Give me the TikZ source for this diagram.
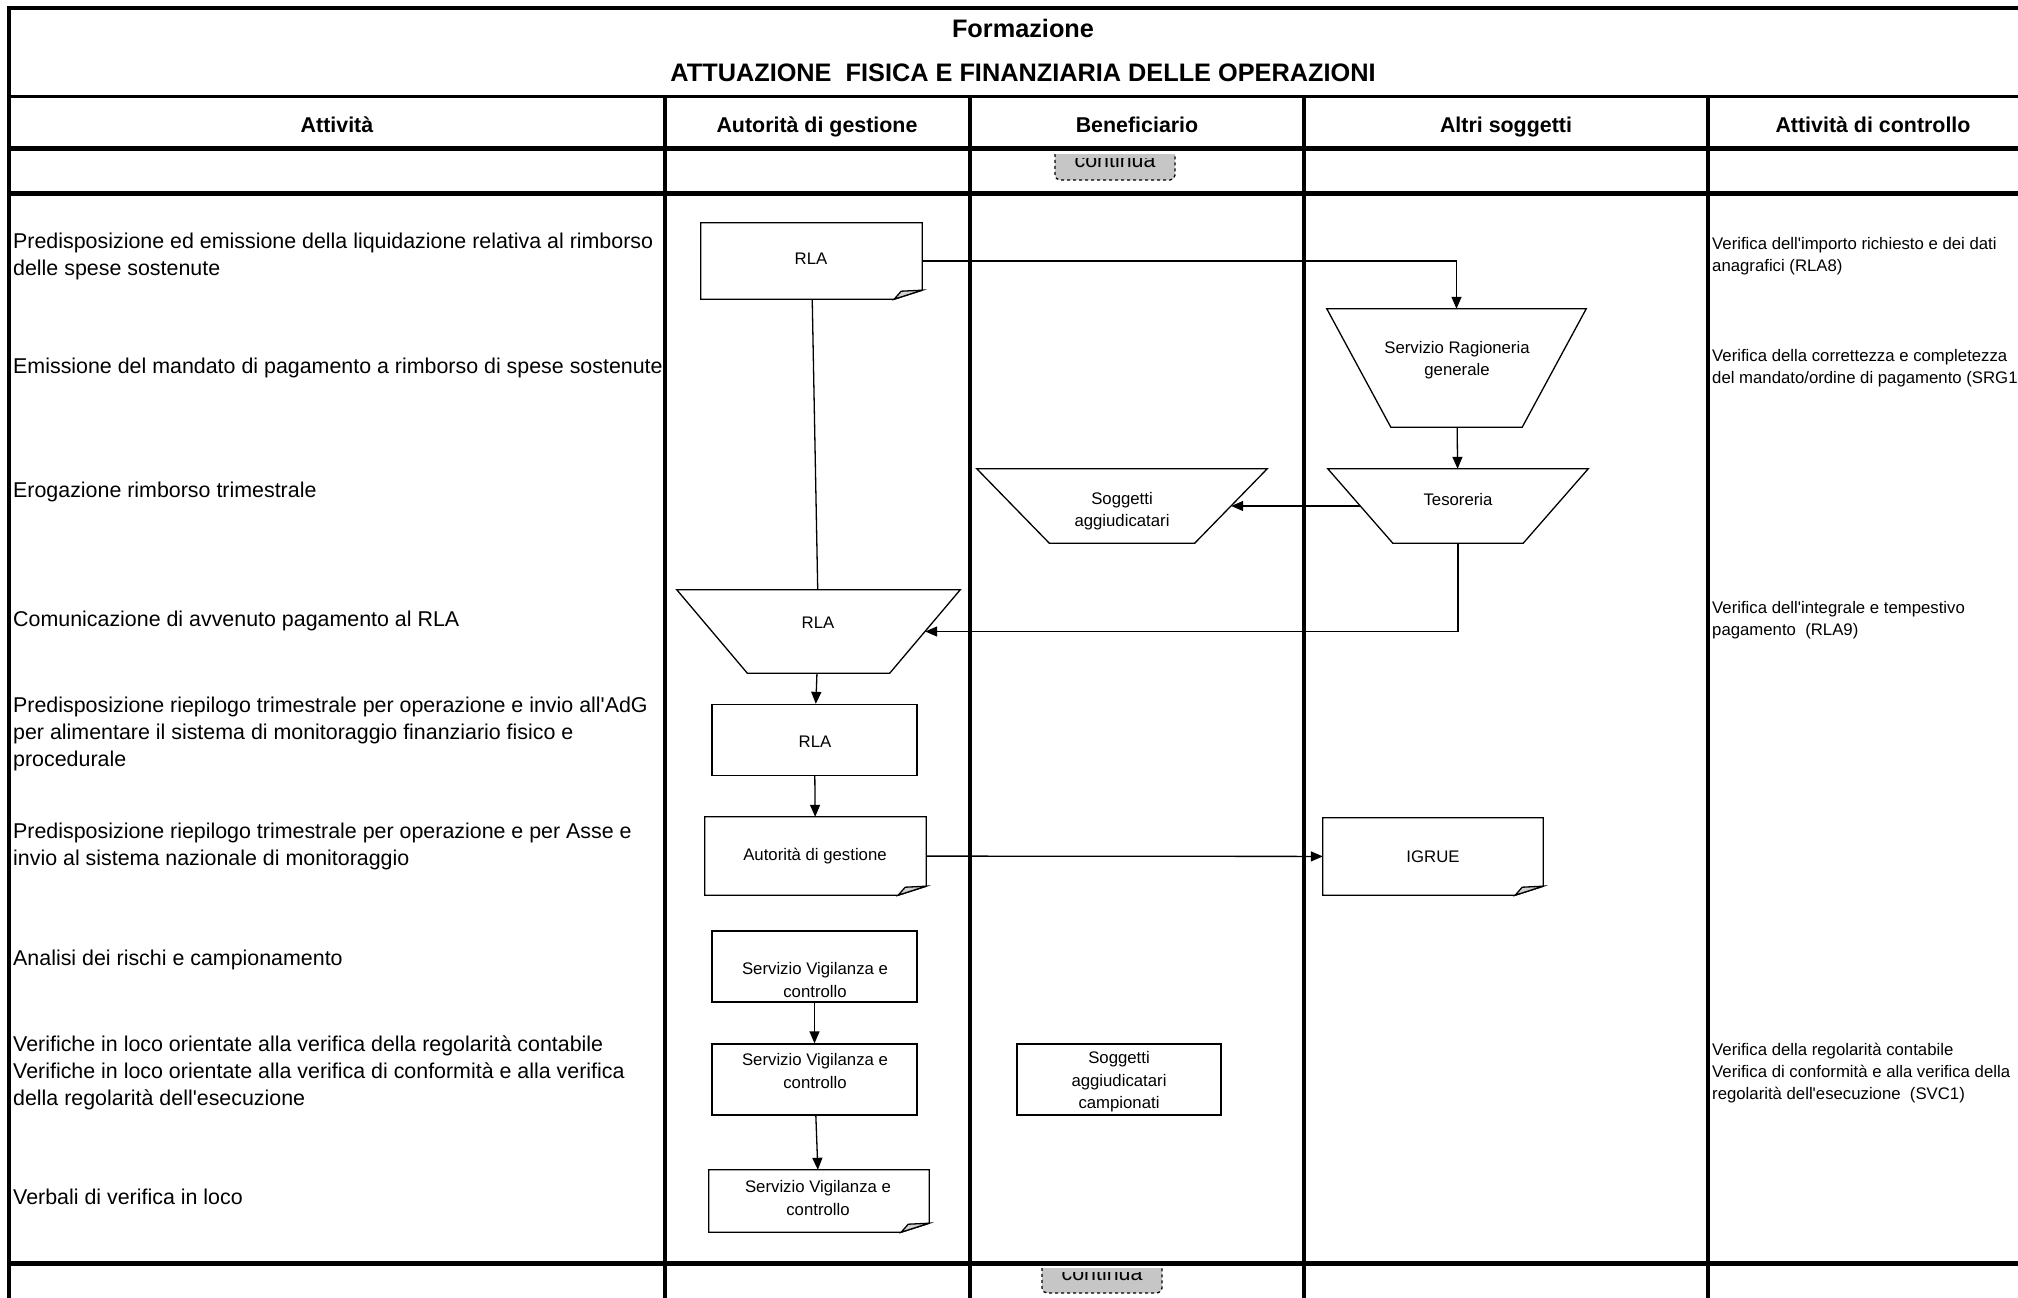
\documentclass[tikz,border=0pt]{standalone}
\usepackage{fontspec}
\newfontfamily\libsans{Liberation Sans}
\usetikzlibrary{arrows.meta}

% document box with the curled corner
\newcommand{\pagecurl}[1]{%
    \draw[outline,fill=white] (#1.north west) -- (#1.north east) -- ([yshift=9pt]#1.south east)
        -- ([xshift=-28pt]#1.south east) -- (#1.south west) -- cycle;
    \filldraw[outline,fill=gray!35] ([xshift=-28pt]#1.south east) -- ([xshift=-21pt,yshift=8pt]#1.south east)
        -- ([yshift=9pt]#1.south east) -- cycle;
}
% upside down trapezium inside a node's box
\newcommand{\trapdraw}[2]{%
    \draw[outline] (#1.north west) -- (#1.north east) -- ([xshift=-#2pt]#1.south east)
        -- ([xshift=#2pt]#1.south west) -- cycle;
}

\begin{document}
\begin{tikzpicture}[x=1pt,y=-1pt,
        outline/.style={line width=1.3pt},
        link/.style={line width=1.3pt,-{Triangle[length=12pt,width=10pt]}},
        frame/.style={line width=3.5pt},
        rowrule/.style={line width=5pt},
        docnode/.style={rectangle,inner sep=0pt},
        boxnode/.style={rectangle,draw,outline,inner sep=0pt,minimum width=205pt,minimum height=71pt},
        contbox/.style={draw,dashed,rounded corners=5pt,fill=gray!45,line width=1.3pt,minimum width=120pt,inner sep=0pt},
        titletext/.style={font=\libsans\bfseries\fontsize{25.3pt}{30pt}\selectfont},
        headtext/.style={anchor=base,font=\libsans\bfseries\fontsize{21.4pt}{26pt}\selectfont},
        acttext/.style={anchor=west,align=left,inner sep=0pt,font=\libsans\fontsize{21.4pt}{27pt}\selectfont},
        ctrltext/.style={anchor=west,align=left,inner sep=0pt,font=\libsans\fontsize{16.75pt}{22pt}\selectfont},
        boxtext/.style={align=center,inner sep=0pt,font=\libsans\fontsize{16.75pt}{22.5pt}\selectfont}]
    \useasboundingbox (0,0) rectangle (2018,1298);
    \clip (0,0) rectangle (2018,1298);

    % table
    \draw[frame] (2040,8) -- (9,8) -- (9,1300);
    \draw[frame] (9,96.5) -- (2040,96.5);
    \foreach \y in {148,193,1263}{
        \draw[rowrule] (9,\y) -- (2040,\y);
    }
    \foreach \x in {665,970,1304,1708}{
        \draw[frame] (\x,96.5) -- (\x,1300);
    }
    \node[titletext] (t1) at (1023,28) {Formazione};
    \node[titletext] (t2) at (1023,73) {ATTUAZIONE~ FISICA E FINANZIARIA DELLE OPERAZIONI};
    \foreach \id/\x/\t in {h1/337/Attività, h2/817/Autorità di gestione, h3/1137/Beneficiario, h4/1506/Altri soggetti, h5/1873/Attività di controllo}{
        \node[headtext] (\id) at (\x,132) {\t};
    }

    % activities and controls
    \def \Acts{a1/256.5/{Predisposizione ed emissione della liquidazione relativa al rimborso\\delle spese sostenute},
        a2/368/{Emissione del mandato di pagamento a rimborso di spese sostenute},
        a3/492/{Erogazione rimborso trimestrale},
        a4/620.5/{Comunicazione di avvenuto pagamento al RLA},
        a5/733.5/{Predisposizione riepilogo trimestrale per operazione e invio all'AdG\\per alimentare il sistema di monitoraggio finanziario fisico e\\procedurale},
        a6/846.5/{Predisposizione riepilogo trimestrale per operazione e per Asse e\\invio al sistema nazionale di monitoraggio},
        a7/960/{Analisi dei rischi e campionamento},
        a8/1073/{Verifiche in loco orientate alla verifica della regolarità contabile\\Verifiche in loco orientate alla verifica di conformità e alla verifica\\della regolarità dell'esecuzione},
        a9/1196.5/{Verbali di verifica in loco}}
    \def \Ctrls{c1/256.5/{Verifica dell'importo richiesto e dei dati\\anagrafici (RLA8)},
        c2/368.5/{Verifica della correttezza e completezza\\del mandato/ordine di pagamento (SRG1},
        c3/620.5/{Verifica dell'integrale e tempestivo\\pagamento~ (RLA9)},
        c4/1073.5/{Verifica della regolarità contabile\\Verifica di conformità e alla verifica della\\regolarità dell'esecuzione~ (SVC1)}}
    \foreach \id/\y/\t in \Acts{
        \node[acttext] (\id) at (13,\y) {\t};
    }
    \foreach \id/\y/\t in \Ctrls{
        \node[ctrltext] (\id) at (1712,\y) {\t};
    }

    % shapes
    \node[docnode,minimum width=221pt,minimum height=76pt] (rla1) at (811.5,261) {};
    \node[docnode,minimum width=221pt,minimum height=78pt] (adg) at (815.5,856) {};
    \node[docnode,minimum width=220pt,minimum height=77pt] (igrue) at (1433,856.5) {};
    \node[docnode,minimum width=220pt,minimum height=62pt] (svc3) at (819,1201) {};
    \foreach \id in {rla1,adg,igrue,svc3}{
        \pagecurl{\id}
    }
    \node[docnode,minimum width=259pt,minimum height=118pt] (srg) at (1456.5,368) {};
    \node[docnode,minimum width=260pt,minimum height=74pt] (tes) at (1458,506) {};
    \node[docnode,minimum width=290pt,minimum height=74pt] (sog) at (1122,506) {};
    \node[docnode,minimum width=283pt,minimum height=83pt] (rlat) at (818.5,631.5) {};
    \foreach \id/\leg in {srg/64, tes/65, sog/72.5, rlat/70.5}{
        \trapdraw{\id}{\leg}
    }
    \node[boxnode] (rlab) at (814.5,740) {};
    \node[boxnode] (svc1) at (814.5,966.5) {};
    \node[boxnode] (svc2) at (814.5,1079.5) {};
    \node[boxnode,minimum width=204pt] (sogc) at (1119,1079.5) {};

    \def \Labels{rla1/811/258.5/RLA, srg/1457/360/{Servizio Ragioneria\\generale}, tes/1458/500/Tesoreria,
        sog/1122/511/{Soggetti\\aggiudicatari}, rlat/818/623/RLA, rlab/815/742/RLA,
        adg/815/856/Autorità di gestione, igrue/1433/857/IGRUE, svc1/815/980/{Servizio Vigilanza e\\controllo},
        svc2/815/1071/{Servizio Vigilanza e\\controllo}, sogc/1119/1082/{Soggetti\\aggiudicatari\\campionati},
        svc3/818/1198/{Servizio Vigilanza e\\controllo}}
    \foreach \id/\x/\y/\t in \Labels{
        \node[boxtext] (\id-t) at (\x,\y) {\t};
    }

    % flow
    \draw[link] (rla1.east) -| (srg);
    \draw[outline] (rla1) -- (rlat);
    \draw[link] (srg) -- (tes);
    \draw[link,shorten <=-32.5pt,shorten >=-36pt] (tes) -- (sog);
    \draw[link,shorten >=-35pt] (tes) |- (rlat);
    \draw[link] (rlat) -- (rlab);
    \draw[link] (rlab) -- (adg);
    \draw[link] (adg) -- (igrue);
    \draw[link] (svc1) -- (svc2);
    \draw[link] (svc2) -- (svc3);

    % continua, its top hidden under the cell edge
    \foreach \id/\x/\ya/\yb/\yc/\yd in {cont1/1115/154.5/158.5/180/167, cont2/1102/1268.5/1272/1293/1280.5}{
        \begin{scope}
            \clip (\x-70,\ya) rectangle (\x+70,\yc+2);
            \node[contbox,minimum height=\yc-\ya+8] (\id) at (\x,{(\ya+\yc-8)/2}) {};
        \end{scope}
        \begin{scope}
            \clip (\x-70,\yb) rectangle (\x+70,\yc);
            \node[acttext,anchor=base] (\id-t) at (\x,\yd) {continua};
        \end{scope}
    }
\end{tikzpicture}
\end{document}
